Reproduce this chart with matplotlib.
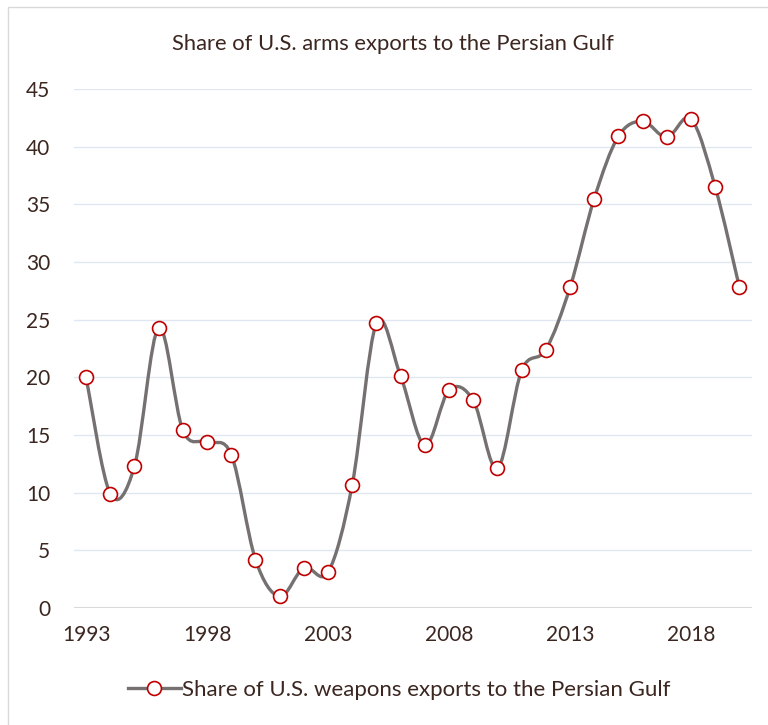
import matplotlib
matplotlib.use("Agg")
import matplotlib.pyplot as plt
from matplotlib.path import Path
from matplotlib.patches import PathPatch, Rectangle
from matplotlib.lines import Line2D

# ---------- data ----------
years = list(range(1993, 2021))
share = [20.0, 9.9, 12.3, 24.3, 15.4, 14.4, 13.3, 4.2, 1.0, 3.5, 3.1, 10.7,
         24.7, 20.1, 14.1, 18.9, 18.0, 12.1, 20.6, 22.4, 27.8, 35.5, 40.9,
         42.2, 40.8, 42.4, 36.5, 27.8]
xticks = [1993, 1998, 2003, 2008, 2013, 2018]
yticks = list(range(0, 50, 5))

title = "Share of U.S. arms exports to the Persian Gulf"
series_label = "Share of U.S. weapons exports to the Persian Gulf"

text_col = "#3b2620"
line_col = "#767171"
mark_col = "#c00000"

plt.rcParams['font.family'] = ['Lato', 'DejaVu Sans']


def smooth_path(xs, ys):
    # Catmull-Rom style bezier, similar to Excel's smoothed line
    verts = [(xs[0], ys[0])]
    codes = [Path.MOVETO]
    n = len(xs)
    for i in range(n - 1):
        x0, y0 = (xs[i - 1], ys[i - 1]) if i > 0 else (xs[i], ys[i])
        x1, y1 = xs[i], ys[i]
        x2, y2 = xs[i + 1], ys[i + 1]
        x3, y3 = (xs[i + 2], ys[i + 2]) if i + 2 < n else (x2, y2)
        c1 = (x1 + (x2 - x0) / 6, y1 + (y2 - y0) / 6)
        c2 = (x2 - (x3 - x1) / 6, y2 - (y3 - y1) / 6)
        verts += [c1, c2, (x2, y2)]
        codes += [Path.CURVE4] * 3
    return Path(verts, codes)


fig = plt.figure(figsize=(7.68, 7.25), dpi=100)
ax = fig.add_axes([74 / 768, 1 - 608 / 725, 678 / 768, 519 / 725])

# outer chart border
fig.patches.append(Rectangle((8 / 768, -0.1), 1.2, 1 - 7 / 725 + 0.1,
                             transform=fig.transFigure, fill=False,
                             edgecolor="#d9d9d9", linewidth=1))

for v in yticks[1:]:
    ax.axhline(v, color="#dfe7f3", linewidth=1, zorder=0)
ax.axhline(0, color="#d9d9d9", linewidth=1.5, zorder=0)

ax.add_patch(PathPatch(smooth_path(years, share), facecolor="none",
                       edgecolor=line_col, linewidth=2.4, zorder=2,
                       capstyle="round", joinstyle="round"))
ax.plot(years, share, linestyle="none", marker="o", markersize=10,
        markerfacecolor="white", markeredgecolor=mark_col,
        markeredgewidth=1.2, zorder=3)

ax.set_xlim(1992.5, 2020.52)
ax.set_ylim(0, 45)
ax.set_xticks(xticks)
ax.set_yticks(yticks)
ax.tick_params(length=0, labelsize=15, labelcolor=text_col)
ax.tick_params(axis="x", pad=12)
ax.tick_params(axis="y", pad=17)
for s in ax.spines.values():
    s.set_visible(False)

fig.text(393 / 768, 1 - 44 / 725, title, ha="center", va="center",
         fontsize=15.8, color=text_col)

handle = Line2D([], [], color=line_col, linewidth=2.4, marker="o",
                markersize=10, markerfacecolor="white",
                markeredgecolor=mark_col, markeredgewidth=1.2)
fig.legend([handle], [series_label], loc="center",
           bbox_to_anchor=(399 / 768, 1 - 690 / 725), frameon=False,
           fontsize=16, labelcolor=text_col, handlelength=2.4,
           handletextpad=0.05)

fig.savefig("out.png", dpi=100, facecolor="white")
